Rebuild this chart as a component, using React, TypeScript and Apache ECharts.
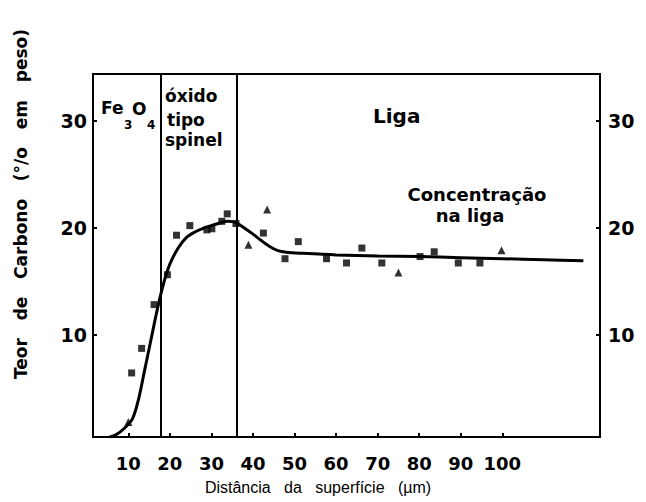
import { useEffect, useRef } from "react";
import * as echarts from "echarts";

// Axis ticks (distance in µm, carbon content in wt %)
const xTicks = [10, 20, 30, 40, 50, 60, 70, 80, 90, 100];
const yTicks = [10, 20, 30];

// Interfaces Fe3O4 | spinel oxide | alloy (µm)
const interfaces = [17.8, 36];

// Measured points
const squarePoints = [
  [10.8, 6.4], [13.2, 8.7], [16.2, 12.8], [19.4, 15.6], [21.6, 19.3],
  [24.8, 20.2], [28.9, 19.8], [30.1, 19.9], [32.5, 20.6], [33.8, 21.3],
  [35.9, 20.4], [42.5, 19.5], [47.7, 17.1], [50.9, 18.7], [57.7, 17.1],
  [62.5, 16.7], [66.2, 18.1], [71.0, 16.7], [80.2, 17.3], [83.6, 17.75],
  [89.4, 16.7], [94.6, 16.7],
];
const trianglePoints = [
  [10.0, 1.8], [38.9, 18.4], [43.4, 21.7], [75.0, 15.8], [99.8, 17.9],
];

// Fitted profile
const fitCurve = [
  [5.5, 0.4], [7, 0.6], [9, 1.2], [11, 2.1], [12.5, 4.0], [14, 6.8],
  [15.5, 9.6], [17, 12.4], [18.5, 14.8], [20, 16.6], [22, 18.1], [24, 19.1],
  [26, 19.6], [28, 19.95], [30, 20.2], [32, 20.45], [34, 20.6], [36, 20.45],
  [38, 19.95], [40, 19.4], [42, 18.8], [44, 18.25], [46, 17.85], [48, 17.7],
  [52, 17.6], [60, 17.45], [70, 17.35], [80, 17.3], [90, 17.2], [100, 17.1],
  [110, 17.0], [119.5, 16.9],
];

const FONT = "DejaVu Sans";
const INK = "#000";

export default function App() {
  const ref = useRef<HTMLDivElement>(null);

  useEffect(() => {
    if (!ref.current) return;
    const chart = echarts.init(ref.current, null, { renderer: "svg" });

    const tickLabel = {
      color: INK,
      fontFamily: FONT,
      fontWeight: "bold" as const,
      fontSize: 18,
    };

    const yAxisCommon = {
      type: "value" as const,
      min: 0.4,
      max: 34.4,
      axisLine: { show: true, lineStyle: { color: INK, width: 2 } },
      axisTick: {
        show: true,
        inside: true,
        length: 4,
        customValues: yTicks,
        lineStyle: { color: INK, width: 2 },
      },
      splitLine: { show: false },
    };

    const text = (x: number, y: number, t: string, size: number, extra = {}) => ({
      type: "text",
      x,
      y,
      style: {
        text: t,
        fill: INK,
        font: `bold ${size}px "${FONT}"`,
        textVerticalAlign: "middle",
        ...extra,
      },
    });

    chart.setOption({
      animation: false,
      backgroundColor: "#fff",
      grid: {
        left: 93,
        top: 74,
        width: 507,
        height: 363,
        show: true,
        borderColor: INK,
        borderWidth: 2,
      },
      xAxis: {
        type: "value",
        min: 1.5,
        max: 123.5,
        axisLine: { show: true, lineStyle: { color: INK, width: 2 } },
        axisTick: {
          show: true,
          inside: true,
          length: 4,
          customValues: xTicks,
          lineStyle: { color: INK, width: 2 },
        },
        axisLabel: { ...tickLabel, margin: 17, customValues: xTicks },
        splitLine: { show: false },
      },
      yAxis: [
        {
          ...yAxisCommon,
          position: "left",
          axisLabel: { ...tickLabel, fontSize: 19, margin: 6, customValues: yTicks },
        },
        {
          ...yAxisCommon,
          position: "right",
          axisLabel: { ...tickLabel, fontSize: 19, margin: 8, customValues: yTicks },
        },
      ],
      series: [
        {
          type: "line",
          data: fitCurve,
          smooth: 0.3,
          symbol: "none",
          lineStyle: { color: INK, width: 3 },
          markLine: {
            silent: true,
            symbol: "none",
            label: { show: false },
            lineStyle: { color: INK, width: 2, type: "solid" },
            data: interfaces.map((v) => ({ xAxis: v })),
          },
        },
        {
          type: "scatter",
          data: squarePoints,
          symbol: "rect",
          symbolSize: 7,
          itemStyle: { color: INK },
        },
        {
          type: "scatter",
          data: trianglePoints,
          symbol: "triangle",
          symbolSize: 8,
          itemStyle: { color: INK },
        },
      ],
      graphic: [
        // Fe3O4 region label
        text(101, 108, "Fe", 17),
        text(124, 125, "3", 12),
        text(132, 109, "O", 17),
        text(147, 125, "4", 12),
        // spinel oxide label
        text(165, 96, "óxido", 17),
        text(167, 120, "tipo", 17),
        text(165, 140, "spinel", 17),
        // alloy label
        text(373, 116, "Liga", 20),
        text(477, 194, "Concentração", 18, { textAlign: "center" }),
        text(470, 215, "na liga", 18, { textAlign: "center" }),
        // axis titles
        {
          type: "text",
          x: 318,
          y: 487,
          style: {
            text: "Distância   da   superfície   (µm)",
            fill: INK,
            font: `16px "Liberation Sans"`,
            textAlign: "center",
            textVerticalAlign: "middle",
          },
        },
        {
          type: "text",
          x: 21,
          y: 204,
          rotation: Math.PI / 2,
          style: {
            text: "Teor   de   Carbono   (°/o   em   peso)",
            fill: INK,
            font: `bold 17px "${FONT}"`,
            textAlign: "center",
            textVerticalAlign: "middle",
          },
        },
      ],
    });

    return () => chart.dispose();
  }, []);

  return <div ref={ref} style={{ width: 646, height: 502, position: "absolute", left: 0, top: 0 }} />;
}
